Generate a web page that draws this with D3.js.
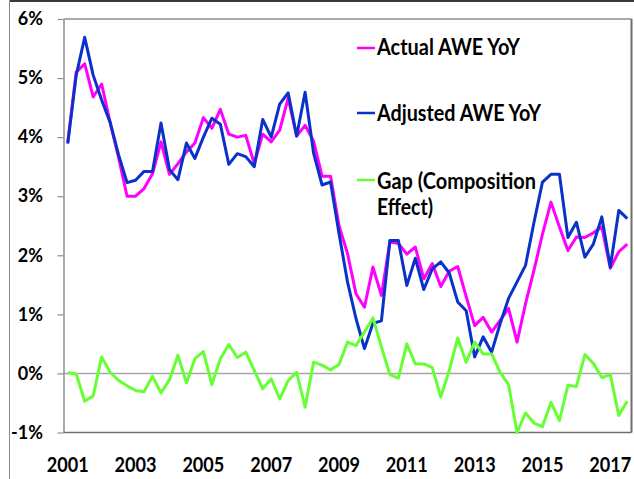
<!DOCTYPE html>
<html>
<head>
<meta charset="utf-8">
<script src="https://cdn.jsdelivr.net/npm/d3@7"></script>
<style>
body { margin: 0; background: #fff; }
text { font-family: Lato, "Liberation Sans", sans-serif; font-weight: bold; fill: #000; }
</style>
</head>
<body>
<svg width="634" height="479"></svg>
<script>
// quarterly YoY growth, 2001 Q1 .. 2017 Q3
var years = ["2001","2002","2003","2004","2005","2006","2007","2008","2009","2010","2011","2012","2013","2014","2015","2016","2017"];
var yearTicks = ["2001","2003","2005","2007","2009","2011","2013","2015","2017"];
var yTicks = [-1, 0, 1, 2, 3, 4, 5, 6];

var actual = [3.91,5.10,5.24,4.68,4.90,4.25,3.65,3.00,3.00,3.13,3.38,3.92,3.37,3.55,3.75,3.90,
	4.33,4.15,4.47,4.05,4.00,4.03,3.55,4.05,3.92,4.12,4.66,4.02,4.20,3.93,3.34,3.34,
	2.50,2.03,1.35,1.12,1.80,1.32,2.23,2.20,2.02,2.14,1.60,1.86,1.47,1.73,1.81,1.30,
	0.81,0.95,0.70,0.90,1.10,0.53,1.18,1.75,2.36,2.90,2.48,2.08,2.31,2.30,2.38,2.48,
	1.78,2.06,2.19];
var adjusted = [3.89,5.05,5.69,5.05,4.63,4.25,3.70,3.23,3.27,3.42,3.42,4.24,3.45,3.28,3.90,3.64,
	4.00,4.32,4.22,3.54,3.72,3.67,3.50,4.30,4.00,4.56,4.75,4.02,4.76,3.73,3.19,3.24,
	2.37,1.55,0.93,0.42,0.85,0.89,2.25,2.25,1.49,1.95,1.42,1.77,1.89,1.70,1.21,1.06,
	0.28,0.62,0.36,0.84,1.27,1.55,1.83,2.56,3.24,3.37,3.37,2.30,2.56,1.97,2.19,2.65,
	1.80,2.76,2.62];
var gap = [0.01,-0.01,-0.47,-0.38,0.28,0.02,-0.12,-0.21,-0.29,-0.31,-0.05,-0.33,-0.11,0.31,-0.16,0.25,
	0.37,-0.19,0.25,0.49,0.27,0.36,0.05,-0.26,-0.09,-0.43,-0.12,0.02,-0.57,0.19,0.14,0.06,
	0.15,0.53,0.47,0.70,0.94,0.45,-0.02,-0.08,0.50,0.16,0.16,0.10,-0.40,0.05,0.60,0.19,
	0.53,0.33,0.33,0.02,-0.19,-1.00,-0.67,-0.84,-0.90,-0.49,-0.80,-0.20,-0.22,0.32,0.17,-0.07,
	-0.02,-0.71,-0.47];

var series = [
	{name: "Actual AWE YoY", values: actual, color: "#ff00ff", lw: 143, ly: 55, sy: 48},
	{name: "Adjusted AWE YoY", values: adjusted, color: "#0a32c8", lw: 164, ly: 120.7, sy: 113},
	{name: "Gap (Composition", name2: "Effect)", values: gap, color: "#66ff33", lw: 159, ly: 189.3, sy: 180}
];

function drawChart(){
	var quarters = [];
	years.forEach(function(yr){ ["Q1","Q2","Q3","Q4"].forEach(function(q){ quarters.push(yr + " " + q); }); });
	quarters = quarters.slice(0, actual.length);

	var svg = d3.select("svg");
	var pLeft = 63.5, pRight = 631.5, pTop = 19, pBottom = 432.5;

	var x = d3.scaleBand().domain(quarters).range([pLeft, pRight]);
	var y = d3.scaleLinear().domain([-1, 6]).range([pBottom, pTop]);
	function cx(q){ return x(q) + x.bandwidth() / 2; }

	// outer chart frame
	svg.append("line").attr("x1", 9.5).attr("x2", 634).attr("y1", 1).attr("y2", 1)
		.attr("stroke", "#3a3a3a").attr("stroke-width", 2);
	svg.append("line").attr("x1", 9.5).attr("x2", 9.5).attr("y1", 0).attr("y2", 479)
		.attr("stroke", "#8a8a8a").attr("stroke-width", 1);

	// plot area border
	svg.append("line").attr("x1", pLeft).attr("x2", pRight).attr("y1", pTop).attr("y2", pTop)
		.attr("stroke", "#8c8c8c").attr("stroke-width", 1.5);
	svg.append("line").attr("x1", pRight).attr("x2", pRight).attr("y1", pTop).attr("y2", pBottom)
		.attr("stroke", "#6e6e6e").attr("stroke-width", 2);
	svg.append("line").attr("x1", pLeft).attr("x2", pRight).attr("y1", pBottom).attr("y2", pBottom)
		.attr("stroke", "#6e6e6e").attr("stroke-width", 1.5);

	// zero line
	svg.append("line").attr("x1", pLeft).attr("x2", pRight).attr("y1", y(0)).attr("y2", y(0))
		.attr("stroke", "#a6a6a6").attr("stroke-width", 1.5);

	// y axis
	var yAxis = svg.append("g").attr("transform", "translate(" + pLeft + ",0)")
		.call(d3.axisLeft(y).tickValues(yTicks).tickSize(6).tickSizeOuter(0)
			.tickFormat(function(d){ return d + "%"; }));
	yAxis.select(".domain").attr("stroke", "#8c8c8c").attr("stroke-width", 1.5);
	yAxis.selectAll(".tick line").attr("stroke", "#8c8c8c").attr("stroke-width", 1.2);
	yAxis.selectAll(".tick text").attr("x", -20.5).attr("font-size", 18)
		.attr("font-family", "Lato, sans-serif").attr("fill", "#000");

	// x labels, every second year
	svg.append("g").selectAll("text").data(yearTicks)
		.enter().append("text")
		.attr("x", function(d){ return cx(d + " Q1"); })
		.attr("y", 472)
		.attr("text-anchor", "middle")
		.attr("font-size", 21.5)
		.attr("textLength", 42)
		.attr("lengthAdjust", "spacingAndGlyphs")
		.text(function(d){ return d; });

	var line = d3.line()
		.x(function(d, i){ return cx(quarters[i]); })
		.y(function(d){ return y(d); });

	svg.append("g").selectAll("path").data(series)
		.enter().append("path")
		.attr("d", function(d){ return line(d.values); })
		.attr("fill", "none")
		.attr("stroke", function(d){ return d.color; })
		.attr("stroke-width", 3)
		.attr("stroke-linejoin", "round");

	// legend
	var leg = svg.append("g").selectAll("g").data(series).enter().append("g");
	leg.append("line")
		.attr("x1", 357).attr("x2", 375)
		.attr("y1", function(d){ return d.sy; }).attr("y2", function(d){ return d.sy; })
		.attr("stroke", function(d){ return d.color; }).attr("stroke-width", 2.5);
	leg.append("text")
		.attr("x", 377).attr("y", function(d){ return d.ly; })
		.attr("font-size", 22)
		.attr("textLength", function(d){ return d.lw; })
		.attr("lengthAdjust", "spacingAndGlyphs")
		.text(function(d){ return d.name; });
	leg.filter(function(d){ return d.name2; }).append("text")
		.attr("x", 377).attr("y", function(d){ return d.ly + 25.7; })
		.attr("font-size", 22)
		.attr("textLength", 56)
		.attr("lengthAdjust", "spacingAndGlyphs")
		.text(function(d){ return d.name2; });
}
drawChart();
</script>
</body>
</html>
